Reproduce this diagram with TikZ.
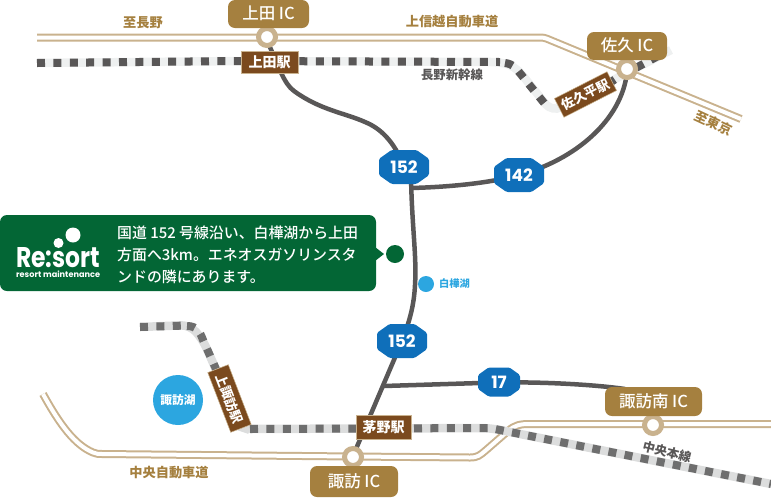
\documentclass[tikz,border=0pt]{standalone}
\usepackage{fontspec}
\usetikzlibrary{calc}
\setmainfont{Noto Sans CJK JP}
\newfontfamily\midfont{Noto Sans CJK JP Medium}
\newfontfamily\numfont{Poppins}
\newfontfamily\logofont{Poppins}
\definecolor{tan}{HTML}{C9B28E}
\definecolor{gold}{HTML}{A5803F}
\definecolor{road}{HTML}{595757}
\definecolor{brownbox}{HTML}{7B4A1E}
\definecolor{brownedge}{HTML}{C9B28E}
\definecolor{shield}{HTML}{0F6FBA}
\definecolor{forest}{HTML}{036635}
\definecolor{lake}{HTML}{2CA6E0}
\definecolor{bedA}{HTML}{EEF0F0}
\definecolor{bedB}{HTML}{DCDDDD}
\definecolor{tieB}{HTML}{6E6E6E}
\tikzset{
  expo/.style={draw=tan,line width=8pt,line join=round},
  expoin/.style={draw=white,line width=4pt,line join=round},
  roadline/.style={draw=road,line width=4.5pt},
  bedup/.style={draw=bedA,line width=8.5pt},
  tieup/.style={draw=road,line width=8pt,dash pattern=on 8pt off 8.4pt},
  beddown/.style={draw=bedB,line width=8.5pt},
  tiedown/.style={draw=tieB,line width=8pt,dash pattern=on 8pt off 8.4pt},
  iclabel/.style={fill=gold,rounded corners=7pt,text=white,inner sep=0pt,font=\fontsize{16.5}{17}\selectfont\midfont,text height=12pt,text depth=1pt},
  stationbox/.style={fill=brownbox,draw=brownedge,line width=.5pt,text=white,inner sep=0pt,font=\fontsize{14}{15}\selectfont\bfseries,text height=11pt,text depth=1pt},
  ring/.style={circle,fill=white,draw=tan,line width=5pt,minimum size=17pt,inner sep=0pt},
  goldtext/.style={text=gold,inner sep=0pt,font=\fontsize{13.2}{14}\selectfont\bfseries},
  graytext/.style={text=road,inner sep=0pt,font=\fontsize{12.4}{14}\selectfont\bfseries},
  shieldtext/.style={text=white,inner sep=0pt,font=\fontsize{17}{18}\selectfont\numfont\bfseries},
}
\newcommand{\shieldsign}[6]{%
  \fill[shield,rounded corners=1.5pt]
    ($(#1,#2)+(-#3,-#4*0.48)$) -- ($(#1,#2)+(-#3*0.5,-#4)$) -- ($(#1,#2)+(#3*0.5,-#4)$) -- ($(#1,#2)+(#3,-#4*0.48)$)
    -- ($(#1,#2)+(#3,#4*0.48)$) -- ($(#1,#2)+(#3*0.5,#4)$) -- ($(#1,#2)+(-#3*0.5,#4)$) -- ($(#1,#2)+(-#3,#4*0.48)$) -- cycle;
  \node[shieldtext] (#6) at (#1,#2) {#5};}
\begin{document}
\begin{tikzpicture}[x=1pt,y=-1pt]
\useasboundingbox (0,0) rectangle (771,499);
% free ends
\coordinate (e1) at (37,37.5);
\coordinate (e2) at (741,119);
\coordinate (e3) at (43,394);
\coordinate (e4) at (771,424);
% expressways
\foreach \s in {expo,expoin}{
  \draw[\s,rounded corners=3pt] (e1) -- (544,37.5) -- (e2);
  \draw[\s] (e3) .. controls (60,425) and (75,445) .. (93,452.5) .. controls (96,454) and (99,454) .. (102,454) -- (353,456.5) -- (470,457.5) .. controls (478,457.5) and (480,455) .. (485,451) -- (508,431) .. controls (515,425) and (520,424) .. (530,424) -- (e4);
}
% roads
\draw[roadline] (269,45) .. controls (278,65) and (284,84) .. (294,91) .. controls (320,110) and (345,113) .. (365,122) .. controls (385,130) and (397,148) .. (404,167);
\draw[roadline] (411,168) .. controls (411,220) and (417,255) .. (415,285) .. controls (414,305) and (410,320) .. (402,341) -- (353,456);
\draw[roadline] (411,188) .. controls (450,187) and (490,183) .. (519,175) .. controls (575,160) and (622,120) .. (627,72);
\draw[roadline] (384,386) -- (480,383) .. controls (530,381) and (590,384) .. (625,389);
% rails
\draw[bedup,rounded corners=10pt] (37,63) -- (241,61) -- (500,62) -- (515,66) -- (552,112) -- (617,78) -- (671,50);
\draw[tieup] (37,63) -- (241,61) -- (500,62);
\draw[tieup] (505,63) .. controls (513,64) and (516,68) .. (519,72) -- (549,109);
\draw[tieup] (608,84) -- (617,78) -- (660,55);
\draw[beddown,rounded corners=9pt] (140,327) -- (190,325) -- (203,340) -- (241,427) -- (247,429) -- (490,428) -- (771,484);
\draw[tiedown] (140,327) -- (187,325.5);
\draw[tiedown] (187,326) .. controls (197,326) and (200,332) .. (203,340) -- (216,369);
\draw[tiedown] (250,429) -- (490,428) -- (771,484);
% interchanges
\node[ring] (uedaic) at (267,37) {};
\node[ring] (sakuic) at (627,69) {};
\node[ring] (suwaic) at (353,457) {};
\node[ring] (minamiic) at (653,425) {};
\node[iclabel,minimum width=81pt,minimum height=28pt] (uedal) at (268.5,14) {上田 IC};
\node[iclabel,minimum width=80pt,minimum height=28pt] (sakul) at (627,46) {佐久 IC};
\node[iclabel,minimum width=88pt,minimum height=31pt] (suwal) at (354,481.5) {諏訪 IC};
\node[iclabel,minimum width=97pt,minimum height=29pt] (minamil) at (653.5,401.5) {諏訪南 IC};
% stations
\node[stationbox,minimum width=57pt,minimum height=22pt] (uedaeki) at (269.5,62) {上田駅};
\node[stationbox,minimum width=59pt,minimum height=21pt,font=\fontsize{13}{14}\selectfont\bfseries,rotate=27] (sakueki) at (585.5,94.5) {佐久平駅};
\node[stationbox,minimum width=64pt,minimum height=22pt,font=\fontsize{13}{14}\selectfont\bfseries,rotate=-69] (kamieki) at (229.5,398.5) {上諏訪駅};
\node[stationbox,minimum width=55pt,minimum height=24pt] (chinoeki) at (383.5,427) {茅野駅};
% route shields
\shieldsign{404}{167}{25}{17}{152}{s1}
\shieldsign{519}{175}{25}{17}{142}{s2}
\shieldsign{402}{341}{25}{17}{152}{s3}
\shieldsign{499}{382}{21}{14.5}{17}{s4}
% lakes
\node[circle,fill=lake,minimum size=50pt,inner sep=0pt,text=white,font=\fontsize{11.7}{12}\selectfont\bfseries] (suwako) at (178,400) {諏訪湖};
\node[circle,fill=lake,minimum size=16pt,inner sep=0pt] (hakudot) at (426,284) {};
\node[anchor=west,text=lake,inner sep=0pt,font=\fontsize{10.2}{11}\selectfont\bfseries] (hakulabel) at (439,284) {白樺湖};
% labels
\node[goldtext] (l1) at (143,23) {至長野};
\node[goldtext] (l2) at (452,22) {上信越自動車道};
\node[goldtext,rotate=-25] (l3) at (714,123) {至東京};
\node[goldtext] (l4) at (169,473) {中央自動車道};
\node[graytext] (l5) at (452,75) {長野新幹線};
\node[graytext,rotate=-14] (l6) at (667,452) {中央本線};
% info panel
\fill[forest,rounded corners=7pt] (0,215) rectangle (376,291);
\fill[forest] (375,247) -- (384,254) -- (375,261) -- cycle;
\node[circle,fill=forest,minimum size=18pt,inner sep=0pt] (resort) at (395,254) {};
\fill[white] (73,235) circle (7.5pt);
\fill[white] (58.5,243) circle (5pt);
\node[text=white,inner sep=0pt,anchor=west] (logo) at (16,257.5) {\resizebox{84pt}{20pt}{\logofont\bfseries Re:sort}};
\node[text=white,inner sep=0pt,anchor=west] (logosub) at (16,274) {\resizebox{84pt}{!}{\logofont\bfseries resort maintenance}};
\node[anchor=north west,text=white,inner sep=0pt,align=left,font=\fontsize{14.9}{22}\selectfont\midfont] (info) at (117,225.5) {国道 152 号線沿い、白樺湖から上田\\方面へ3km。エネオスガソリンスタ\\ンドの隣にあります。};
\end{tikzpicture}
\end{document}
